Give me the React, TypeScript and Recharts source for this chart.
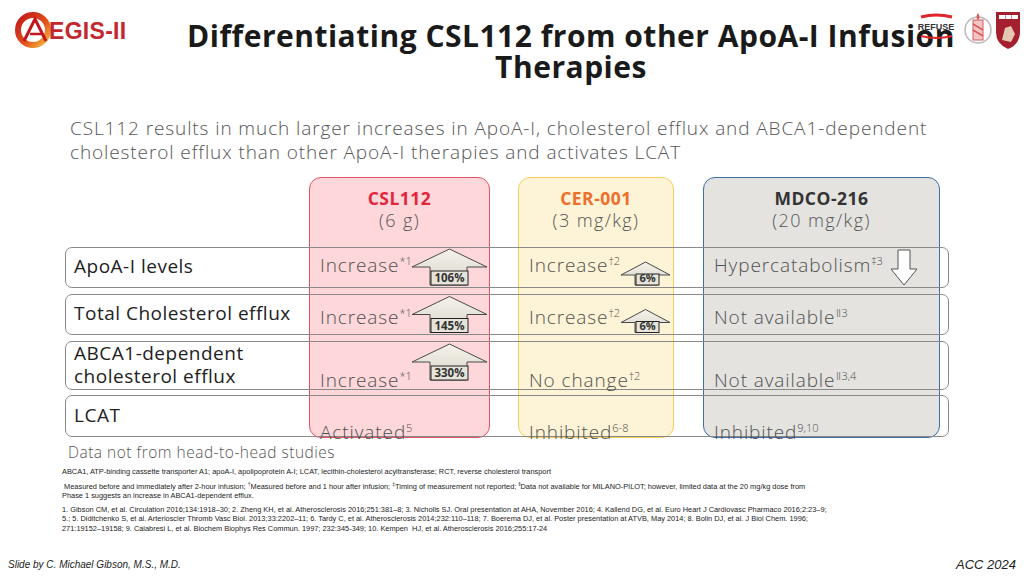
import { ScatterChart, Scatter, XAxis, YAxis } from "recharts";

const therapies = ["CSL112", "CER-001", "MDCO-216"];
const doses = ["(6 g)", "(3 mg/kg)", "(20 mg/kg)"];
const measures = ["ApoA-I levels", "Total Cholesterol efflux", "ABCA1-dependent cholesterol efflux", "LCAT"];

const csl112Effects = ["Increase", "Increase", "Increase", "Activated"];
const csl112Refs = ["*1", "*1", "*1", "5"];
const csl112Change = [106, 145, 330, null];
const csl112Direction = ["up", "up", "up", null];

const cer001Effects = ["Increase", "Increase", "No change", "Inhibited"];
const cer001Refs = ["†2", "†2", "†2", "6-8"];
const cer001Change = [6, 6, null, null];
const cer001Direction = ["up", "up", null, null];

const mdco216Effects = ["Hypercatabolism", "Not available", "Not available", "Inhibited"];
const mdco216Refs = ["‡3", "ǁ3", "ǁ3,4", "9,10"];
const mdco216Change = [null, null, null, null];
const mdco216Direction = ["down", null, null, null];

const effects = [csl112Effects, cer001Effects, mdco216Effects];
const refs = [csl112Refs, cer001Refs, mdco216Refs];
const changes = [csl112Change, cer001Change, mdco216Change];
const directions = [csl112Direction, cer001Direction, mdco216Direction];

// layout of the slide
const COLS = [
  { left: 309, width: 181, fill: "#fdd7da", stroke: "#e35366", title: "#e3263d" },
  { left: 518, width: 156, fill: "#fdf3d6", stroke: "#f4cf5c", title: "#ec6f2c" },
  { left: 703, width: 237, fill: "#e4e3e0", stroke: "#3d6fa8", title: "#333333" },
];
const COL_TOP = 177;
const COL_H = 261;
const ROWS = [
  { top: 247, h: 41 },
  { top: 294, h: 41 },
  { top: 341, h: 49 },
  { top: 395, h: 42 },
];
const TABLE_TOP = 247;
const TABLE_H = 190;
const TEXT_BASE = [25, 29.5, 45, 49.5];
const FONT = "'Open Sans', 'Noto Sans', sans-serif";

function UpArrow({ L, T, pct }: { L: number; T: number; pct: number }) {
  const big = pct >= 100;
  const g = big
    ? { x0: 103, x1: 178, apex: 2, base: 20, s0: 121, s1: 158, bottom: 38, box: 24 }
    : { x0: 103, x1: 152, apex: 15, base: 28, s0: 117, s1: 140, bottom: 38, box: 27 };
  const mid = (g.x0 + g.x1) / 2;
  const pts = [
    [L + mid, T + g.apex],
    [L + g.x1, T + g.base],
    [L + g.s1, T + g.base],
    [L + g.s1, T + g.bottom],
    [L + g.s0, T + g.bottom],
    [L + g.s0, T + g.base],
    [L + g.x0, T + g.base],
  ]
    .map((p) => p.join(","))
    .join(" ");
  return (
    <g>
      <polygon points={pts} fill="url(#arrowFill)" stroke="#4a4a4a" strokeWidth={1} />
      <rect x={L + g.s0 + 1} y={T + g.box} width={g.s1 - g.s0} height={g.bottom - g.box} fill="#e6e4da" stroke="#222" strokeWidth={1} />
      <text
        x={L + (g.s0 + g.s1) / 2 + 1}
        y={T + g.bottom - 3}
        textAnchor="middle"
        fontSize={big ? 11.5 : 11}
        fontWeight={700}
        fontFamily={FONT}
        fill="#333"
      >
        {pct}%
      </text>
    </g>
  );
}

function DownArrow({ L, T }: { L: number; T: number }) {
  const pts = [
    [L + 195, T + 3],
    [L + 207, T + 3],
    [L + 207, T + 22],
    [L + 214, T + 22],
    [L + 201, T + 38],
    [L + 188, T + 22],
    [L + 195, T + 22],
  ]
    .map((p) => p.join(","))
    .join(" ");
  return <polygon points={pts} fill="#ffffff" stroke="#555" strokeWidth={1} />;
}

function EffectCell(props: any) {
  const { cx, cy, payload, colWidth } = props;
  const bandH = TABLE_H / measures.length;
  const T = cy - bandH / 2;
  const L = cx - colWidth / 2;
  const row = measures.indexOf(payload.measure);
  return (
    <g>
      <text
        x={L + 11}
        y={T + TEXT_BASE[row]}
        fontSize={19}
        letterSpacing={0.9}
        fontFamily={FONT}
        fontWeight={300}
        fill="#505050"
      >
        {payload.effect}
        <tspan dy={-7} fontSize={11} letterSpacing={0}>
          {payload.ref}
        </tspan>
      </text>
      {payload.direction === "up" && <UpArrow L={L} T={T} pct={payload.change} />}
      {payload.direction === "down" && <DownArrow L={L} T={T} />}
    </g>
  );
}

function TherapyColumn({ index }: { index: number }) {
  const col = COLS[index];
  const data = measures.map((m, i) => ({
    therapy: therapies[index],
    measure: m,
    effect: effects[index][i],
    ref: refs[index][i],
    change: changes[index][i],
    direction: directions[index][i],
  }));
  return (
    <div style={{ position: "absolute", left: col.left, top: TABLE_TOP, zIndex: 3 }}>
      <ScatterChart
        width={col.width}
        height={TABLE_H + 12}
        margin={{ top: 0, right: 0, bottom: 12, left: 0 }}
        style={{ overflow: "visible" }}
      >
        <defs>
          <linearGradient id="arrowFill" x1="0" y1="0" x2="0" y2="1">
            <stop offset="0%" stopColor="#f4f2ea" />
            <stop offset="100%" stopColor="#d9d6ca" />
          </linearGradient>
        </defs>
        <XAxis type="category" dataKey="therapy" allowDuplicatedCategory={false} hide />
        <YAxis type="category" dataKey="measure" allowDuplicatedCategory={false} hide reversed width={0} />
        <Scatter
          data={data}
          isAnimationActive={false}
          shape={(p: any) => <EffectCell {...p} colWidth={col.width} />}
        />
      </ScatterChart>
    </div>
  );
}

function AegisLogo() {
  return (
    <svg width={140} height={44} style={{ position: "absolute", left: 10, top: 10 }}>
      <defs>
        <linearGradient id="ring" x1="0" y1="0" x2="1" y2="1">
          <stop offset="0%" stopColor="#c3161c" />
          <stop offset="60%" stopColor="#e2541c" />
          <stop offset="100%" stopColor="#f6c343" />
        </linearGradient>
      </defs>
      <circle cx={23} cy={20} r={15} fill="none" stroke="url(#ring)" strokeWidth={6} />
      <path d="M14 31 L25 9 L36 31" fill="none" stroke="#c3161c" strokeWidth={3} />
      <path d="M20 24 L32 24" stroke="#c3161c" strokeWidth={2.5} />
      <text x={39} y={29} fontFamily="'Liberation Sans', Arial, sans-serif" fontWeight={700} fontSize={23} fill="#c2282e" letterSpacing={0.3}>
        EGIS-II
      </text>
    </svg>
  );
}

function RightLogos() {
  return (
    <svg width={110} height={50} style={{ position: "absolute", left: 914, top: 4, zIndex: 5 }}>
      <path d="M7 13 Q22 9 38 13" stroke="#e0262b" strokeWidth={3} fill="none" />
      <text x={22} y={26} textAnchor="middle" fontFamily="'Liberation Sans', Arial, sans-serif" fontWeight={700} fontSize={9} fill="#333">
        REFUSE
      </text>
      <path d="M7 32 Q22 36 38 32" stroke="#e0262b" strokeWidth={2} fill="none" />
      <circle cx={64} cy={26} r={13} fill="#fff" stroke="#bbb" strokeWidth={1.5} />
      <rect x={59} y={16} width={10} height={20} fill="#f3c6c6" stroke="#d65a5a" strokeWidth={1} />
      <path d="M59 20 L69 26 M59 26 L69 32" stroke="#d65a5a" strokeWidth={1.5} />
      <path d="M64 9 Q61 13 64 16 Q67 13 64 9" fill="#d65a5a" />
      <path d="M82 8 L106 8 L106 28 Q106 40 94 45 Q82 40 82 28 Z" fill="#a4202f" />
      <rect x={85} y={11} width={6} height={4} fill="#fff" />
      <rect x={91.5} y={11} width={6} height={4} fill="#fff" />
      <rect x={98} y={11} width={6} height={4} fill="#fff" />
      <path d="M88 36 L91 24 L97 22 L101 30 L97 38 Z" fill="#f1e6c8" opacity={0.85} />
    </svg>
  );
}

export default function App() {
  return (
    <div
      style={{
        position: "absolute",
        left: 0,
        top: 0,
        width: 1024,
        height: 576,
        background: "#ffffff",
        overflow: "hidden",
        fontFamily: FONT,
      }}
    >
      <AegisLogo />
      <div
        style={{
          position: "absolute",
          left: 121,
          top: 20,
          width: 900,
          textAlign: "center",
          fontSize: 30,
          fontWeight: 700,
          letterSpacing: 0.5,
          lineHeight: "31px",
          color: "#1a1a1a",
        }}
      >
        Differentiating CSL112 from other ApoA-I Infusion
        <br />
        Therapies
      </div>
      <RightLogos />

      <div
        style={{
          position: "absolute",
          left: 70,
          top: 117,
          fontSize: 19,
          letterSpacing: 0.9,
          lineHeight: "23.5px",
          color: "#555",
          fontWeight: 300,
        }}
      >
        CSL112 results in much larger increases in ApoA-I, cholesterol efflux and ABCA1-dependent
        <br />
        cholesterol efflux than other ApoA-I therapies and activates LCAT
      </div>

      {COLS.map((c, i) => (
        <div
          key={therapies[i]}
          style={{
            position: "absolute",
            left: c.left,
            top: COL_TOP,
            width: c.width - 2,
            height: COL_H - 2,
            background: c.fill,
            border: `1.5px solid ${c.stroke}`,
            borderRadius: 12,
            zIndex: 1,
            textAlign: "center",
          }}
        >
          <div style={{ marginTop: 9, fontSize: 17.5, letterSpacing: 0.5, fontWeight: 700, color: c.title, lineHeight: "22px" }}>
            {therapies[i]}
          </div>
          <div style={{ fontSize: 18, letterSpacing: 1.4, color: "#555", fontWeight: 300, lineHeight: "22px" }}>{doses[i]}</div>
        </div>
      ))}

      {ROWS.map((r, i) => (
        <div
          key={measures[i]}
          style={{
            position: "absolute",
            left: 65,
            top: r.top,
            width: 882,
            height: r.h - 2,
            border: "1.2px solid #8a8a8a",
            borderRadius: 7,
            zIndex: 2,
          }}
        />
      ))}

      {measures.map((m, i) => (
        <div
          key={m}
          style={{
            position: "absolute",
            left: 74,
            top: ROWS[i].top + (i === 2 ? 1 : i === 3 ? 9 : 8),
            width: 235,
            fontSize: 19,
            letterSpacing: 0.5,
            lineHeight: "23px",
            color: "#222",
            zIndex: 4,
          }}
        >
          {i === 2 ? (
            <>
              ABCA1-dependent
              <br />
              cholesterol efflux
            </>
          ) : (
            m
          )}
        </div>
      ))}

      {therapies.map((t, i) => (
        <TherapyColumn key={t} index={i} />
      ))}

      <div style={{ position: "absolute", left: 68, top: 441, fontSize: 15.5, letterSpacing: 0.5, color: "#555", fontWeight: 300 }}>
        Data not from head-to-head studies
      </div>

      <div
        style={{
          position: "absolute",
          left: 62,
          top: 467,
          width: 840,
          fontFamily: "'Liberation Sans', Arial, sans-serif",
          fontSize: 7.4,
          lineHeight: "9.5px",
          color: "#222",
        }}
      >
        <div>ABCA1, ATP-binding cassette transporter A1; apoA-I, apolipoprotein A-I; LCAT, lecithin-cholesterol acyltransferase; RCT, reverse cholesterol transport</div>
        <div style={{ marginTop: 3 }}>
          {"\u00a0"}Measured before and immediately after 2-hour infusion; <sup style={{ fontSize: 5 }}>†</sup>Measured before and 1 hour after infusion;{" "}
          <sup style={{ fontSize: 5 }}>‡</sup>Timing of measurement not reported; <sup style={{ fontSize: 5 }}>ǁ</sup>Data not available for MILANO-PILOT; however,
          limited data at the 20 mg/kg dose from
          <br />
          Phase 1 suggests an increase in ABCA1-dependent efflux.
        </div>
        <div style={{ marginTop: 4 }}>
          1. Gibson CM, et al. Circulation 2016;134:1918–30; 2. Zheng KH, et al. Atherosclerosis 2016;251:381–8; 3. Nicholls SJ. Oral presentation at AHA, November 2016; 4. Kallend DG, et al. Euro Heart J Cardiovasc Pharmaco 2016;2:23–9;
          <br />
          5.; 5. Diditchenko S, et al. Arterioscler Thromb Vasc Biol. 2013;33:2202–11; 6. Tardy C, et al. Atherosclerosis 2014;232:110–118; 7. Boerema DJ, et al. Poster presentation at ATVB, May 2014; 8. Bolin DJ, et al. J Biol Chem. 1996;
          <br />
          271:19152–19158; 9. Calabresi L, et al. Biochem Biophys Res Commun. 1997; 232:345-349; 10. Kempen {"\u00a0"}HJ, et al. Atherosclerosis 2016;255:17-24
        </div>
      </div>

      <div style={{ position: "absolute", left: 8, top: 559, fontFamily: "'Liberation Sans', Arial, sans-serif", fontStyle: "italic", fontSize: 10, color: "#222" }}>
        Slide by C. Michael Gibson, M.S., M.D.
      </div>
      <div style={{ position: "absolute", right: 8, top: 557, fontFamily: "'Liberation Sans', Arial, sans-serif", fontStyle: "italic", fontSize: 13, color: "#222" }}>
        ACC 2024
      </div>
    </div>
  );
}
